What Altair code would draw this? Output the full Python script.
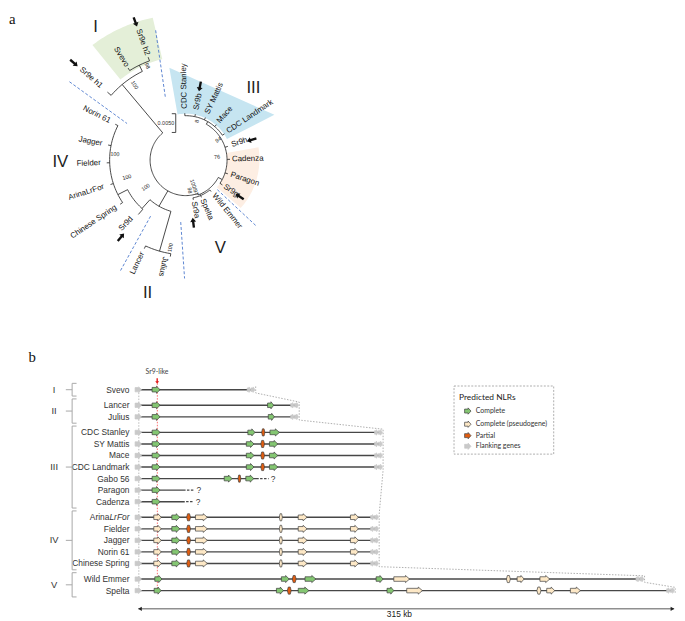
import math
import altair as alt
import pandas as pd

# ===================== Panel a : circular tree =====================
# angles in degrees (counter-clockwise from east), radii in tree units
leaf_names = ["Svevo", "Sr9e h2", "Sr9e h1", "Norin 61", "Jagger", "Fielder", "ArinaLrFor",
              "Chinese Spring", "Sr9d", "Lancer", "Julius", "Sr9a", "Spelta", "Wild Emmer",
              "Sr9g", "Paragon", "Cadenza", "Sr9h", "CDC Landmark", "Mace", "SY Mattis",
              "Sr9b", "CDC Stanley"]
leaf_theta = [122, 110, 139, 153, 169, 182, 198, 214, 227, 245, 258, 281, 293, 309,
              326, 342, 361, 378, 394, 409, 425, 438, 451]
leaf_label_r = [112, 113, 113, 86, 86, 86, 87, 85, 80, 103, 100, 43, 43, 45,
                47, 48, 47, 49, 51, 51, 52, 52, 52]
leaf_inward = [True] * 10 + [False] * 13

branch_theta = [130, 139, 116, 122, 110, 240, 254, 245, 261, 228, 229, 207,
                153, 169, 182, 198, 214, 290, 293, 281, 293, 309, 332,
                326, 342, 361, 378, 420, 394, 409, 425, 438, 451]
branch_r0 = [36, 100, 100, 107, 107, 36, 54, 96, 96, 54, 66, 66,
             77, 77, 77, 77, 77, 36, 37.5, 39, 39, 39, 37.5,
             42, 42, 42, 42, 42, 45, 45, 45, 45, 45]
branch_r1 = [100, 105, 107, 110, 111, 54, 96, 99, 99, 66, 73, 77,
             80, 80, 80, 80, 80, 37.5, 39, 41, 41, 41, 42,
             45, 45, 45, 45, 45, 47.5, 47.5, 47.5, 47.5, 47.5]
arc_r = [36, 100, 107, 54, 96, 66, 77, 37.5, 39, 42, 45]
arc_t0 = [130, 116, 110, 228, 245, 207, 153, 290, 281, 326, 394]
arc_t1 = [290, 139, 122, 254, 261, 229, 214, 332, 309, 420, 451]

boot_text = ["98", "100", "100", "100", "100", "100", "8", "94", "76", "100/97", "98"]
boot_theta = [112, 124, 175, 196, 214, 260, 74, 32, 6, 288, 278]
boot_r = [103, 92, 72, 62, 49, 90, 41, 39, 32, 29, 31]

arrow_theta = [110, 139, 79, 17, 326, 230, 277]
arrow_r = [149, 150, 76, 70, 66, 102, 64]

roman_a = ["I", "III", "IV", "V", "II"]
roman_a_theta = [124, 46.6, 181, 291.5, 254]
roman_a_r = [163, 100, 127, 96, 140]

sep_t0 = [103, 146, 238, 265.5, 317]
sep_r0 = [135, 142, 67, 63, 44]
sep_t1 = [108, 148, 239.5, 269.5, 317]
sep_r1 = [66, 70, 130, 120, 98]

region_t0 = [103, 27, 319]
region_t1 = [129, 100, 370]
region_rin = [105, 47, 42]
region_rout0 = [148, 101, 74]
region_rout1 = [150, 95, 75]
region_chord = [False, True, False]
region_fill = ["#e4efd8", "#c6e5f1", "#fdeee3"]

scalebar_x = -10
scalebar_y = [28, 47]


def polar(t, r):
    a = math.radians(t)
    return r * math.cos(a), r * math.sin(a)


def rot_out(t):
    return (-t) % 360


def rot_in(t):
    return (180 - t) % 360


def label_rot(t):
    tt = t % 360
    return rot_in(t) if 90 < tt < 270 else rot_out(t)


# tree segments
seg_rows = []
sid = 0
for t, r0, r1 in zip(branch_theta, branch_r0, branch_r1):
    for i, r in enumerate((r0, r1)):
        x, y = polar(t, r)
        seg_rows.append(dict(seg=sid, i=i, X=x, Y=y))
    sid += 1
for r, t0, t1 in zip(arc_r, arc_t0, arc_t1):
    n = max(2, int(abs(t1 - t0) / 2))
    for i in range(n + 1):
        x, y = polar(t0 + (t1 - t0) * i / n, r)
        seg_rows.append(dict(seg=sid, i=i, X=x, Y=y))
    sid += 1
# scale bar bracket
for pts in ([(scalebar_x, scalebar_y[0]), (scalebar_x, scalebar_y[1])],
            [(scalebar_x - 4, scalebar_y[0]), (scalebar_x, scalebar_y[0])],
            [(scalebar_x - 4, scalebar_y[1]), (scalebar_x, scalebar_y[1])]):
    for i, (x, y) in enumerate(pts):
        seg_rows.append(dict(seg=sid, i=i, X=x, Y=y))
    sid += 1
seg_df = pd.DataFrame(seg_rows)

sep_rows = []
for k, (t0, r0, t1, r1) in enumerate(zip(sep_t0, sep_r0, sep_t1, sep_r1)):
    for i, (t, r) in enumerate(((t0, r0), (t1, r1))):
        x, y = polar(t, r)
        sep_rows.append(dict(seg=k, i=i, X=x, Y=y))
sep_df = pd.DataFrame(sep_rows)


def path_str(pts, unit):
    return "M" + "L".join(f"{x / unit:.4f},{y / unit:.4f}" for x, y in pts) + "Z"


reg_rows = []
for t0, t1, rin, ro0, ro1, chord, col in zip(region_t0, region_t1, region_rin, region_rout0,
                                               region_rout1, region_chord, region_fill):
    pts = []
    n = 30
    for i in range(n + 1):
        x, y = polar(t0 + (t1 - t0) * i / n, rin)
        pts.append((x, -y))
    if chord:
        for t, r in ((t1, ro1), (t0, ro0)):
            x, y = polar(t, r)
            pts.append((x, -y))
    else:
        for i in range(n + 1):
            f = i / n
            x, y = polar(t1 + (t0 - t1) * f, ro1 + (ro0 - ro1) * f)
            pts.append((x, -y))
    reg_rows.append(dict(X=0, Y=0, path=path_str(pts, 100), fill=col))
reg_df = pd.DataFrame(reg_rows)

lab_rows = []
for name, t, r, inward in zip(leaf_names, leaf_theta, leaf_label_r, leaf_inward):
    x, y = polar(t, r)
    lab_rows.append(dict(X=x, Y=y, name=name, rot=rot_in(t) if inward else rot_out(t), inward=inward))
lab_df = pd.DataFrame(lab_rows)

boot_rows = []
for s_, t, r in zip(boot_text, boot_theta, boot_r):
    x, y = polar(t, r)
    boot_rows.append(dict(X=x, Y=y, txt=s_, rot=label_rot(t)))
boot_df = pd.DataFrame(boot_rows)

ARROW_PATH = path_str([(0, -5), (3, -1), (1.2, -1), (1.2, 5), (-1.2, 5), (-1.2, -1), (-3, -1)], 10)
arr_rows = []
for t, r in zip(arrow_theta, arrow_r):
    x, y = polar(t, r)
    arr_rows.append(dict(X=x, Y=y, rot=(-90 - t) % 360))
arr_df = pd.DataFrame(arr_rows)

rom_rows = []
for s_, t, r in zip(roman_a, roman_a_theta, roman_a_r):
    x, y = polar(t, r)
    rom_rows.append(dict(X=x, Y=y, txt=s_))
rom_df = pd.DataFrame(rom_rows)

misc_a = pd.DataFrame([dict(X=scalebar_x - 10, Y=sum(scalebar_y) / 2, txt="0.0050")])
tag_a = pd.DataFrame([dict(X=-179, Y=143, txt="a")])

XA = alt.Scale(domain=[-180, 497], nice=False, zero=False)
YA = alt.Scale(domain=[-188, 147], nice=False, zero=False)


def ax(f):
    return alt.X(f, type="quantitative", scale=XA, axis=None)


def ay(f):
    return alt.Y(f, type="quantitative", scale=YA, axis=None)


FONT = "Liberation Sans"

a_regions = alt.Chart(reg_df).mark_point(filled=True, opacity=1, strokeWidth=0, size=40000).encode(
    x=ax("X"), y=ay("Y"), shape=alt.Shape("path:N", scale=None, legend=None),
    fill=alt.Fill("fill:N", scale=None, legend=None))
a_tree = alt.Chart(seg_df).mark_line(color="#333333", strokeWidth=0.9).encode(
    x=ax("X"), y=ay("Y"), detail="seg:N", order="i:Q")
a_sep = alt.Chart(sep_df).mark_line(color="#4a78cc", strokeWidth=0.9, strokeDash=[3, 2]).encode(
    x=ax("X"), y=ay("Y"), detail="seg:N", order="i:Q")
a_lab_in = alt.Chart(lab_df[lab_df.inward]).mark_text(
    align="right", baseline="middle", fontSize=8, font=FONT, color="#111111").encode(
    x=ax("X"), y=ay("Y"), text="name:N", angle=alt.Angle("rot:Q", scale=None))
a_lab_out = alt.Chart(lab_df[~lab_df.inward]).mark_text(
    align="left", baseline="middle", fontSize=8, font=FONT, color="#111111").encode(
    x=ax("X"), y=ay("Y"), text="name:N", angle=alt.Angle("rot:Q", scale=None))
a_boot = alt.Chart(boot_df).mark_text(
    align="center", baseline="middle", fontSize=5.5, font=FONT, color="#222222").encode(
    x=ax("X"), y=ay("Y"), text="txt:N", angle=alt.Angle("rot:Q", scale=None))
a_arrows = alt.Chart(arr_df).mark_point(filled=True, opacity=1, shape=ARROW_PATH, size=400,
                                        color="#111111", strokeWidth=0).encode(
    x=ax("X"), y=ay("Y"), angle=alt.Angle("rot:Q", scale=None))
a_roman = alt.Chart(rom_df).mark_text(
    align="center", baseline="middle", fontSize=17, font=FONT, color="#222222").encode(
    x=ax("X"), y=ay("Y"), text="txt:N")
a_scale_txt = alt.Chart(misc_a).mark_text(
    align="center", baseline="middle", fontSize=5.5, font=FONT, color="#333333").encode(
    x=ax("X"), y=ay("Y"), text="txt:N")
a_tag = alt.Chart(tag_a).mark_text(
    align="left", baseline="middle", fontSize=15, font="Liberation Serif", color="#111111").encode(
    x=ax("X"), y=ay("Y"), text="txt:N")

panel_a = alt.layer(a_regions, a_sep, a_tree, a_lab_in, a_lab_out, a_boot, a_arrows,
                    a_roman, a_scale_txt, a_tag).properties(width=677, height=335)

# ===================== Panel b : NLR gene arrangements =====================
row_names = ["Svevo", "Lancer", "Julius", "CDC Stanley", "SY Mattis", "Mace", "CDC Landmark",
             "Gabo 56", "Paragon", "Cadenza", "Arina", "Fielder", "Jagger", "Norin 61",
             "Chinese Spring", "Wild Emmer", "Spelta"]
row_group = [0, 1, 1, 2, 2, 2, 2, 2, 2, 2, 3, 3, 3, 3, 3, 4, 4]
group_names = ["I", "II", "III", "IV", "V"]
row_end_kb = [68.4, 94, 94, 143.3, 143.3, 143.3, 143.3, 70.8, 27.8, 27.3,
              141, 141, 141, 141, 141, 297, 315]
row_dash_end = [None] * 7 + [76.6, 33.0, 32.5] + [None] * 7

sr9_start = [8.1] * 10 + [9.1] * 5 + [9.7, 9.3]
sr9_end = [12.8] * 10 + [13.5] * 5 + [13.9, 13.4]
sr9_kind = ["complete"] * 10 + ["pseudo"] * 5 + ["complete"] * 2

lancer_start, lancer_end = [76.0], [79.6]
julius_start, julius_end = [76.4], [80.0]
iii_kind = ["complete", "partial", "complete"]
stanley_start, stanley_end = [64.4, 72.5, 77.4], [68.6, 74.4, 83.0]
iii_start, iii_end = [63.5, 72.0, 77.1], [68.0, 74.2, 82.0]
gabo_start, gabo_end = [50.5, 58.6, 63.2], [55.1, 60.3, 67.9]
iv_start = [19.7, 28.4, 33.6, 82.9, 94.0, 124.7]
iv_end = [24.4, 30.7, 40.6, 84.7, 99.2, 129.4]
iv_kind = ["complete", "partial", "pseudo", "pseudo", "pseudo", "pseudo"]
we_start = [84.1, 90.5, 98.0, 139.8, 150.2, 216.4, 222.7, 236.1]
we_end = [88.7, 92.8, 104.4, 143.9, 159.5, 218.7, 226.8, 241.9]
spelta_start = [81.2, 87.6, 94.0, 146.2, 157.8, 234.3, 240.1, 254.0]
spelta_end = [85.3, 89.9, 100.3, 150.2, 167.0, 236.7, 244.8, 259.9]
v_kind = ["complete", "partial", "complete", "complete", "pseudo", "pseudo", "pseudo", "pseudo"]

legend_labels = ["Complete", "Complete (pseudogene)", "Partial", "Flanking genes"]
legend_kind = ["complete", "pseudo", "partial", "flank"]

scale_kb = 315

kind_domain = ["complete", "pseudo", "partial", "flank"]
kind_fill = ["#84c672", "#fde8c6", "#e25d10", "#c9c9c9"]
kind_stroke = ["#3d3d3d", "#3d3d3d", "#3d3d3d", "#c9c9c9"]

GROUP_GAP = 0.35
KB_MIN, KB_MAX = -76.6, 316.1
S_MIN, S_MAX = -3.82, 19.255
WB, HB = 677, 270
PX_PER_KB = WB / (KB_MAX - KB_MIN)

row_s = [i + GROUP_GAP * g for i, g in enumerate(row_group)]


def gene_path(w, form, bh=2.3, hh=3.6):
    if form == "lozenge":
        pts = [(-w / 2, 0), (-w / 4, -hh), (w / 4, -hh), (w / 2, 0), (w / 4, hh), (-w / 4, hh)]
    else:
        head = min(w * 0.45, 4.2)
        x0, x1, x2 = -w / 2, w / 2 - head, w / 2
        pts = [(x0, -bh), (x1, -bh), (x1, -hh), (x2, 0), (x1, hh), (x1, bh), (x0, bh)]
    return path_str(pts, 10)


genes = []


def add(row, starts, ends, kinds):
    for a, b, k in zip(starts, ends, kinds):
        genes.append(dict(row=row, start=a, end=b, kind=k))


for r in range(len(row_names)):
    add(r, [sr9_start[r]], [sr9_end[r]], [sr9_kind[r]])
add(1, lancer_start, lancer_end, ["complete"])
add(2, julius_start, julius_end, ["complete"])
add(3, stanley_start, stanley_end, iii_kind)
for r in (4, 5, 6):
    add(r, iii_start, iii_end, iii_kind)
add(7, gabo_start, gabo_end, iii_kind)
for r in range(10, 15):
    add(r, iv_start, iv_end, iv_kind)
add(15, we_start, we_end, v_kind)
add(16, spelta_start, spelta_end, v_kind)

gene_rows = []
for gdef in genes:
    w = (gdef["end"] - gdef["start"]) * PX_PER_KB
    form = "lozenge" if (gdef["kind"] == "partial" or gdef["end"] - gdef["start"] < 2.6) else "arrow"
    gene_rows.append(dict(kb=(gdef["start"] + gdef["end"]) / 2, s=row_s[gdef["row"]],
                          path=gene_path(w, form), kind=gdef["kind"]))
# flanking genes
left_flank_kb = 3.8
for r in range(len(row_names)):
    gene_rows.append(dict(kb=0, s=row_s[r], path=gene_path(left_flank_kb * PX_PER_KB, "arrow", 2.2, 3.0),
                          kind="flank"))
    if row_dash_end[r] is None:
        e = row_end_kb[r]
        for a, b in ((e - 4.4, e - 2.4), (e - 2.2, e + 0.2)):
            gene_rows.append(dict(kb=(a + b) / 2, s=row_s[r],
                                  path=gene_path((b - a) * PX_PER_KB, "arrow", 1.8, 2.8), kind="flank"))
gene_df = pd.DataFrame(gene_rows)

line_df = pd.DataFrame([dict(x0=0, x1=(row_end_kb[r] - 1.5 if row_dash_end[r] is None else row_end_kb[r]),
                             s=row_s[r]) for r in range(len(row_names))])
dash_df = pd.DataFrame([dict(x0=row_end_kb[r] + 0.8, x1=row_dash_end[r], s=row_s[r],
                             q=row_dash_end[r] + 1.2, txt="?")
                        for r in range(len(row_names)) if row_dash_end[r] is not None])

# dotted grey connection through the right-hand flanking genes
conn = []
closed = [r for r in range(len(row_names)) if row_dash_end[r] is None]
grp = []
for r in closed:
    if grp and row_end_kb[grp[-1]] == row_end_kb[r] and row_group[grp[-1]] == row_group[r]:
        grp.append(r)
    else:
        if grp:
            conn.append(grp)
        grp = [r]
conn.append(grp)
conn_rows = []
k = 0
for g in conn:
    e = row_end_kb[g[0]] + 0.6
    conn_rows.append(dict(i=k, kb=e, s=row_s[g[0]] - 0.28)); k += 1
    conn_rows.append(dict(i=k, kb=e, s=row_s[g[-1]] + 0.28)); k += 1
conn_df = pd.DataFrame(conn_rows)

vert_df = pd.DataFrame([dict(kb=0.3, s0=row_s[0], s1=row_s[-1], c="#aaaaaa"),
                        dict(kb=11.2, s0=-0.55, s1=row_s[-1] + 0.2, c="#ff4a4a")])

name_df = pd.DataFrame([dict(kb=(-17.0 if n == "Arina" else -5.2), s=row_s[i], txt=n)
                        for i, n in enumerate(row_names)])
italic_df = pd.DataFrame([dict(kb=-5.2, s=row_s[row_names.index("Arina")], txt="LrFor")])

br_rows, rom_b = [], []
for gi, gname in enumerate(group_names):
    rs = [row_s[i] for i, g in enumerate(row_group) if g == gi]
    top, bot, mid = rs[0] - 0.55, rs[-1] + 0.55, (rs[0] + rs[-1]) / 2
    br_rows += [dict(x0=-38.9, x1=-38.9, y0=top, y1=bot),
                dict(x0=-38.9, x1=-36.3, y0=top, y1=top),
                dict(x0=-38.9, x1=-36.3, y0=bot, y1=bot),
                dict(x0=-42.6, x1=-38.9, y0=mid, y1=mid)]
    rom_b.append(dict(kb=-49.5, s=mid, txt=gname))
br_df = pd.DataFrame(br_rows)
romb_df = pd.DataFrame(rom_b)

XB = alt.Scale(domain=[KB_MIN, KB_MAX], nice=False, zero=False)
YB = alt.Scale(domain=[S_MIN, S_MAX], reverse=True, nice=False, zero=False)


def bx(f):
    return alt.X(f, type="quantitative", scale=XB, axis=None)


def by(f):
    return alt.Y(f, type="quantitative", scale=YB, axis=None)


fill_scale = alt.Scale(domain=kind_domain, range=kind_fill)
stroke_scale = alt.Scale(domain=kind_domain, range=kind_stroke)

b_vert = alt.Chart(vert_df).mark_rule(strokeWidth=0.8, strokeDash=[1.5, 1.5]).encode(
    x=bx("kb"), y=by("s0"), y2="s1", color=alt.Color("c:N", scale=None))
b_conn = alt.Chart(conn_df).mark_line(color="#9a9a9a", strokeWidth=0.8, strokeDash=[1.5, 1.5]).encode(
    x=bx("kb"), y=by("s"), order="i:Q")
b_lines = alt.Chart(line_df).mark_rule(color="#474747", strokeWidth=1.4).encode(
    x=bx("x0"), x2="x1", y=by("s"))
b_dash = alt.Chart(dash_df).mark_rule(color="#474747", strokeWidth=1.2, strokeDash=[2.5, 1.5]).encode(
    x=bx("x0"), x2="x1", y=by("s"))
b_q = alt.Chart(dash_df).mark_text(align="left", baseline="middle", fontSize=8.5, font=FONT,
                                   color="#333333").encode(x=bx("q"), y=by("s"), text="txt:N")
b_genes = alt.Chart(gene_df).mark_point(filled=True, opacity=1, size=400, strokeWidth=0.7).encode(
    x=bx("kb"), y=by("s"), shape=alt.Shape("path:N", scale=None, legend=None),
    fill=alt.Fill("kind:N", scale=fill_scale, legend=None),
    stroke=alt.Stroke("kind:N", scale=stroke_scale, legend=None))
b_names = alt.Chart(name_df).mark_text(align="right", baseline="middle", fontSize=8.5, font=FONT,
                                       color="#333333").encode(x=bx("kb"), y=by("s"), text="txt:N")
b_italic = alt.Chart(italic_df).mark_text(align="right", baseline="middle", fontSize=8.5, font=FONT,
                                          fontStyle="italic", color="#333333").encode(
    x=bx("kb"), y=by("s"), text="txt:N")
b_br = alt.Chart(br_df).mark_rule(color="#a8a8a8", strokeWidth=1).encode(
    x=bx("x0"), x2="x1", y=by("y0"), y2="y1")
b_rom = alt.Chart(romb_df).mark_text(align="center", baseline="middle", fontSize=9.5, font=FONT,
                                     color="#333333").encode(x=bx("kb"), y=by("s"), text="txt:N")

sr9_df = pd.DataFrame([dict(kb=11.0, s=-1.5, txt="Sr9-like")])
b_sr9 = alt.Chart(sr9_df).mark_text(align="center", baseline="middle", fontSize=7, font="Lato",
                                    color="#444444").encode(x=bx("kb"), y=by("s"), text="txt:N")
red_arrow_df = pd.DataFrame([dict(kb=11.1, s=-0.78)])
RED_ARROW = path_str([(0, 3), (2, 0.6), (0.7, 0.6), (0.7, -2.6), (-0.7, -2.6), (-0.7, 0.6), (-2, 0.6)], 10)
b_red = alt.Chart(red_arrow_df).mark_point(filled=True, opacity=1, shape=RED_ARROW, size=400,
                                           color="#e21b1b", strokeWidth=0).encode(x=bx("kb"), y=by("s"))

scale_df = pd.DataFrame([dict(x0=0, x1=scale_kb, s=18.98, mid=153.5, ts=19.4, txt=f"{scale_kb} kb")])
tri_df = pd.DataFrame([dict(kb=1.0, s=18.98, shape="triangle-left"),
                       dict(kb=scale_kb - 1.0, s=18.98, shape="triangle-right")])
b_scale = alt.Chart(scale_df).mark_rule(color="#555555", strokeWidth=1).encode(
    x=bx("x0"), x2="x1", y=by("s"))
b_tri = alt.Chart(tri_df).mark_point(filled=True, opacity=1, size=18, color="#222222").encode(
    x=bx("kb"), y=by("s"), shape=alt.Shape("shape:N", scale=None, legend=None))
b_scale_txt = alt.Chart(scale_df).mark_text(align="center", baseline="middle", fontSize=8.5,
                                            font=FONT, color="#222222").encode(
    x=bx("mid"), y=by("ts"), text="txt:N")

leg_box = pd.DataFrame([dict(x0=185.6, x1=244.2, y0=-0.32, y1=5.58)])
leg_title = pd.DataFrame([dict(kb=188.5, s=0.62, txt="Predicted NLRs")])
leg_s = [1.85, 2.99, 3.98, 4.9]
leg_items = pd.DataFrame([dict(kb=193.7, tkb=198.4, s=s_, txt=t, kind=k,
                               path=gene_path(6.5, "arrow", 2.0, 3.2))
                          for s_, t, k in zip(leg_s, legend_labels, legend_kind)])
b_leg_box = alt.Chart(leg_box).mark_rect(fill="white", stroke="#9a9a9a", strokeWidth=0.8,
                                         strokeDash=[2, 1.5]).encode(
    x=bx("x0"), x2="x1", y=by("y0"), y2="y1")
b_leg_title = alt.Chart(leg_title).mark_text(align="left", baseline="middle", fontSize=8.5,
                                             font="Lato", color="#222222").encode(
    x=bx("kb"), y=by("s"), text="txt:N")
b_leg_icons = alt.Chart(leg_items).mark_point(filled=True, opacity=1, size=400, strokeWidth=0.7).encode(
    x=bx("kb"), y=by("s"), shape=alt.Shape("path:N", scale=None, legend=None),
    fill=alt.Fill("kind:N", scale=fill_scale, legend=None),
    stroke=alt.Stroke("kind:N", scale=stroke_scale, legend=None))
b_leg_txt = alt.Chart(leg_items).mark_text(align="left", baseline="middle", fontSize=7, font="Lato",
                                           color="#333333").encode(x=bx("tkb"), y=by("s"), text="txt:N")
tag_b = pd.DataFrame([dict(kb=-64.5, s=-2.8, txt="b")])
b_tag = alt.Chart(tag_b).mark_text(align="left", baseline="middle", fontSize=15,
                                   font="Liberation Serif", color="#111111").encode(
    x=bx("kb"), y=by("s"), text="txt:N")

panel_b = alt.layer(b_vert, b_conn, b_lines, b_dash, b_q, b_genes, b_names, b_italic, b_br, b_rom,
                    b_sr9, b_red, b_scale, b_tri, b_scale_txt, b_leg_box, b_leg_title,
                    b_leg_icons, b_leg_txt, b_tag).properties(width=WB, height=HB)

chart = alt.vconcat(panel_a, panel_b, spacing=0, bounds="flush").properties(
    padding=0, background="white").configure_view(stroke=None)

chart.save("out.html", embed_options={"renderer": "svg", "actions": False})
